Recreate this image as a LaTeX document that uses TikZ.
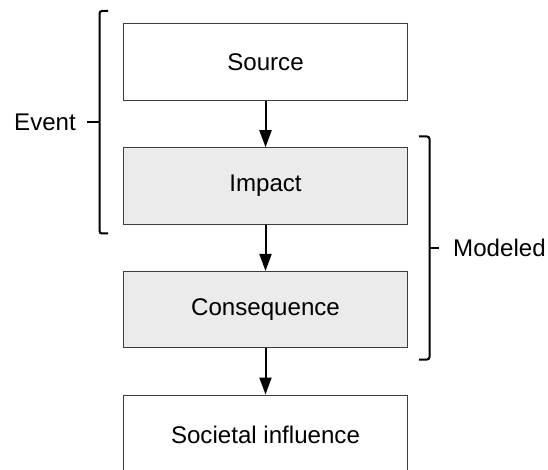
\documentclass[tikz,border=0pt]{standalone}
\usepackage{fontspec}
\setmainfont{Liberation Sans}
\usetikzlibrary{arrows.meta}
\definecolor{boxgrey}{HTML}{EBEBEB}
\definecolor{edgegrey}{HTML}{3C3C3C}
\tikzset{
  stagebox/.style={draw=edgegrey, line width=1bp, minimum width=284bp, minimum height=76.5bp,
    inner sep=0pt, font=\fontsize{24.2}{29}\selectfont},
  modeledbox/.style={stagebox, fill=boxgrey},
  plainbox/.style={stagebox, fill=white},
  flow/.style={line width=2bp, -{Triangle[length=17bp,width=12bp]}},
  bracketline/.style={line width=2bp, rounded corners=2.5bp},
  sidelabel/.style={font=\fontsize{24.2}{29}\selectfont, inner sep=0pt}
}
\begin{document}
\begin{tikzpicture}[x=1bp,y=-1bp]
\useasboundingbox (0,0) rectangle (548,470);
\clip (0,0) rectangle (548,470);
\fill[white] (0,0) rectangle (548,470);

\node[plainbox]   (source) at (265.5,62.2)  {Source};
\node[modeledbox] (impact) at (265.5,186)   {Impact};
\node[modeledbox] (conseq) at (265.5,309.7) {Consequence};
\node[plainbox, minimum height=80bp] (society) at (265.5,435) {Societal influence};

\draw[flow] (source) -- (impact);
\draw[flow] (impact) -- (conseq);
\draw[flow] (conseq) -- (society.north);

% Event bracket
\draw[bracketline] (108,11) -- (99.5,11) -- (99.5,233.5) -- (108,233.5);
\draw[line width=2bp] (99.5,122.5) -- (87,122.5);
\node[sidelabel, anchor=west] (event) at (14,122.5) {Event};

% Modeled bracket
\draw[bracketline] (419,136.5) -- (429.5,136.5) -- (429.5,359.5) -- (419,359.5);
\draw[line width=2bp] (429.5,248) -- (439,248);
\node[sidelabel, anchor=west] (modeled) at (453,248) {Modeled};
\end{tikzpicture}
\end{document}
